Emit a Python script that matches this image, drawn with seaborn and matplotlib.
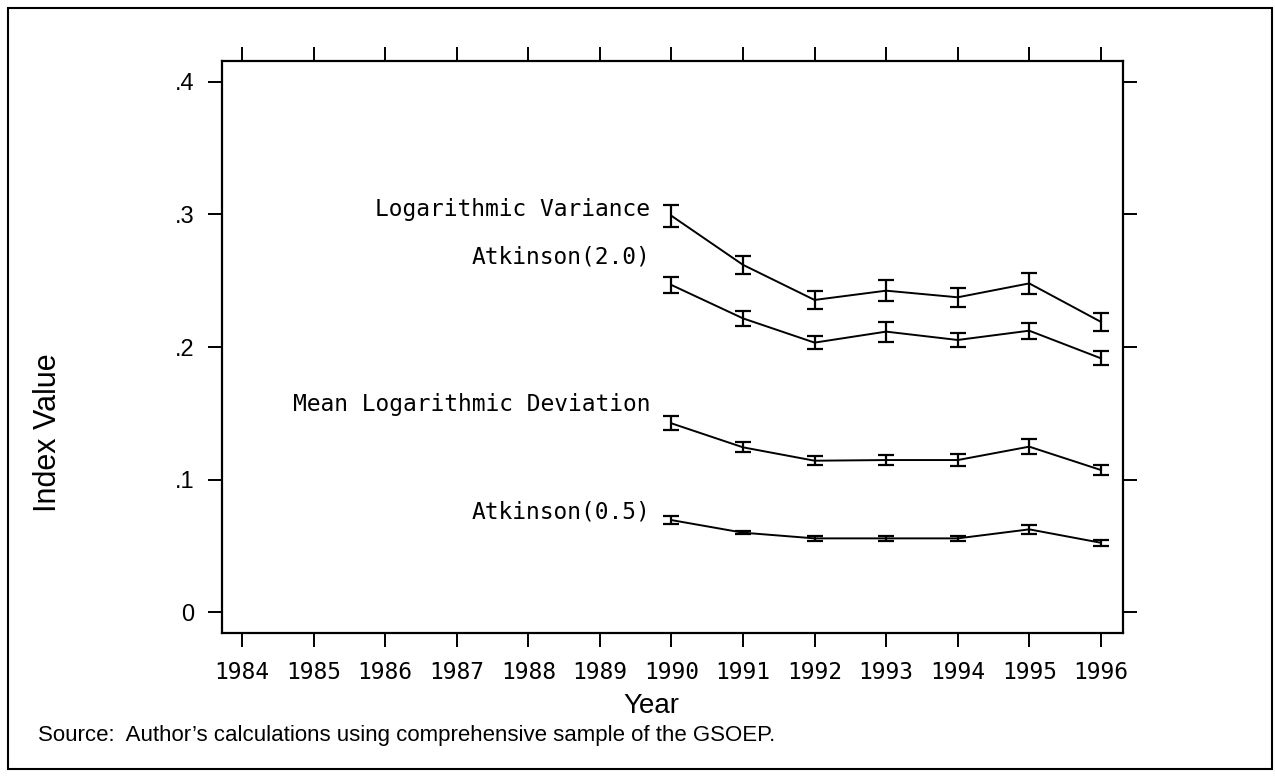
import matplotlib
matplotlib.use("Agg")
import matplotlib.pyplot as plt
import numpy as np
import pandas as pd
import seaborn as sns
from matplotlib.patches import Rectangle

# ── Data ─────────────────────────────────────────────────────────────────────
years = [1990, 1991, 1992, 1993, 1994, 1995, 1996]
log_variance = [0.299, 0.262, 0.2355, 0.2425, 0.2375, 0.248, 0.219]
log_variance_err = [0.0085, 0.007, 0.0065, 0.0078, 0.0072, 0.0078, 0.007]
atkinson_20 = [0.2468, 0.2216, 0.2033, 0.2116, 0.2053, 0.2123, 0.1915]
atkinson_20_err = [0.0063, 0.0055, 0.005, 0.0075, 0.0055, 0.006, 0.0053]
mean_log_dev = [0.1424, 0.1243, 0.1142, 0.1147, 0.1147, 0.1248, 0.1072]
mean_log_dev_err = [0.0053, 0.0038, 0.0035, 0.0038, 0.0043, 0.0055, 0.0038]
atkinson_05 = [0.0694, 0.0599, 0.0556, 0.0556, 0.0556, 0.0624, 0.0523]
atkinson_05_err = [0.003, 0.0013, 0.0019, 0.0019, 0.002, 0.0034, 0.0023]

series_names = ["Logarithmic Variance", "Atkinson(2.0)",
                "Mean Logarithmic Deviation", "Atkinson(0.5)"]
x_ticks = list(range(1984, 1997))
y_ticks = [0, 0.1, 0.2, 0.3, 0.4]
y_tick_labels = ["0", ".1", ".2", ".3", ".4"]

# label offsets (pixels left / up of the 1990 point)
label_offsets = [(-21, 6), (-21, 28), (-21, 19), (-21, 8)]

values = [log_variance, atkinson_20, mean_log_dev, atkinson_05]
errors = [log_variance_err, atkinson_20_err, mean_log_dev_err, atkinson_05_err]

df = pd.concat(
    [pd.DataFrame({"year": years, "value": v, "err": e, "index": n})
     for n, v, e in zip(series_names, values, errors)],
    ignore_index=True,
)

# ── Style ────────────────────────────────────────────────────────────────────
sns.set_theme(style="white")
MONO = "DejaVu Sans Mono"
SANS = "Liberation Sans"
PX = 0.72  # points per pixel at dpi=100

fig = plt.figure(figsize=(12.75, 7.76), dpi=100)
ax = fig.add_axes([222 / 1275, 1 - 633 / 776, 901 / 1275, 572 / 776])

sns.lineplot(data=df, x="year", y="value", units="index", estimator=None,
             color="black", linewidth=1.4, ax=ax, legend=False)
for name, grp in df.groupby("index", sort=False):
    ax.errorbar(grp["year"], grp["value"], yerr=grp["err"], fmt="none",
                ecolor="black", elinewidth=1.6, capsize=5.8, capthick=1.6)
    first = grp.iloc[0]
    dx, dy = label_offsets[series_names.index(name)]
    ax.annotate(name, (first["year"], first["value"]),
                xytext=(dx * PX, dy * PX), textcoords="offset points",
                ha="right", va="center", family=MONO, fontsize=16.5, color="black")

ax.set_xlim(1983.72, 1996.31)
ax.set_ylim(-0.0158, 0.4158)
ax.set_xticks(x_ticks)
ax.set_xticklabels([str(y) for y in x_ticks], family=MONO, fontsize=16.5)
ax.set_yticks(y_ticks)
ax.set_yticklabels(y_tick_labels, family=SANS, fontsize=17)
ax.set_xlabel("")
ax.set_ylabel("")

ax.tick_params(axis="both", which="both", direction="out", length=10, width=1.4,
               color="black", labelcolor="black", pad=10,
               top=True, right=True, bottom=True, left=True,
               labeltop=False, labelright=False)
for sp in ax.spines.values():
    sp.set_visible(True)
    sp.set_color("black")
    sp.set_linewidth(1.6)

fig.text(48 / 1275, 1 - 433 / 776, "Index Value", rotation=90, ha="center",
         va="center", family=SANS, fontsize=22, color="black")
fig.text(651 / 1275, 1 - 706 / 776, "Year", ha="center", va="center",
         family=SANS, fontsize=20, color="black")
fig.text(38 / 1275, 1 - 736 / 776,
         "Source:  Author\u2019s calculations using comprehensive sample of the GSOEP.",
         ha="left", va="center", family=SANS, fontsize=16, color="black")

fig.patches.append(Rectangle((8 / 1275, 1 - 769 / 776), 1264 / 1275, 761 / 776,
                             transform=fig.transFigure, fill=False,
                             edgecolor="black", linewidth=1.5))

fig.savefig("out.png", dpi=100)
